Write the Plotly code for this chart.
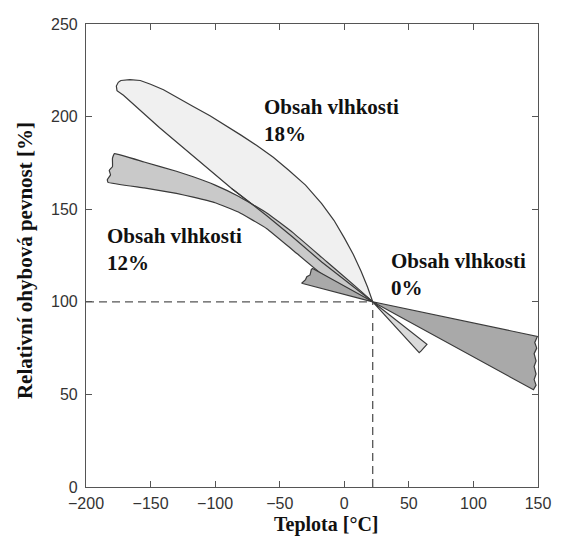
import plotly.graph_objects as go

# ---- data ----
# 18 % moisture band (light): upper curve, then lower edge back to the left tip
m18_x = [-173, -166, -158, -150, -140, -128, -117, -104, -91, -80, -68, -55, -43,
         -30, -17.5, -8, 0, 7, 13, 18, 22,
         -17.5, -40, -60, -87, -117, -143, -171, -176, -176.5, -175, -173]
m18_y = [219.5, 220, 219.5, 217.5, 214.5, 210, 205.5, 200.5, 195, 190, 184.5, 178, 171,
         163, 153, 144, 134.5, 125.5, 116.5, 108, 100,
         121.5, 135, 146.5, 161, 178.5, 194, 211.5, 214, 216.5, 218.5, 219.5]
# narrow tail beyond room temperature
tail_x = [22, 58, 59.5, 61, 62, 64, 22]
tail_y = [100, 72.5, 73.5, 74.5, 75.5, 77, 100]
# 12 % moisture band (medium)
m12_x = [-178, -155, -130, -117, -100, -82, -60, -40, -17.5, 22,
         -17.5, -40, -60, -82, -100, -117, -130, -155, -183,
         -183.5, -181, -182, -179.5, -179.5, -178]
m12_y = [180, 175.5, 170.5, 167.5, 163, 157, 148, 137.5, 124, 100,
         115, 128, 139.5, 148.5, 153.5, 156.5, 158.5, 161.5, 164.5,
         166, 168.5, 171, 173, 177.5, 180]
# 0 % moisture band (dark, bow-tie through the reference point)
m0_x = [-24.5, 22, 149.5, 147.5, 149, 147, 148.5, 147, 148.5, 147, 148.5, 146.5,
        22, -33, -30, -29, -26.5, -25.5, -24.5]
m0_y = [118, 100, 81.3, 78, 75, 72, 68, 65, 61, 58, 55, 52.5,
        100, 110, 112, 113.5, 114.5, 117.5, 118]

ref_x = 22
ref_y = 100

x_ticks = [-200, -150, -100, -50, 0, 50, 100, 150]
y_ticks = [0, 50, 100, 150, 200, 250]

labels = ["Obsah vlhkosti<br>18%", "Obsah vlhkosti<br>12%", "Obsah vlhkosti<br>0%"]
label_x = [-63.5, -185, 35]
label_y = [198, 128, 115]

# ---- figure ----
edge = dict(color="#3a3a3a", width=1.2)
fig = go.Figure()

fig.add_trace(go.Scatter(x=[-200, ref_x], y=[ref_y, ref_y], mode="lines",
                         line=dict(color="#555555", width=1.3, dash="8px,5px"),
                         hoverinfo="skip"))
fig.add_trace(go.Scatter(x=[ref_x, ref_x], y=[0, ref_y], mode="lines",
                         line=dict(color="#555555", width=1.3, dash="8px,5px"),
                         hoverinfo="skip"))

fig.add_trace(go.Scatter(x=m18_x, y=m18_y, fill="toself", fillcolor="#f0f0f0",
                         mode="lines", line=edge))
fig.add_trace(go.Scatter(x=m12_x, y=m12_y, fill="toself", fillcolor="#c9c9c9",
                         mode="lines", line=dict(color="#3a3a3a", width=1.2, shape="spline", smoothing=0.3)))
# redraw the 18% lower edge on top of the 12% band
fig.add_trace(go.Scatter(x=m18_x[20:25], y=m18_y[20:25], mode="lines", line=edge))
fig.add_trace(go.Scatter(x=tail_x, y=tail_y, fill="toself", fillcolor="#dadada",
                         mode="lines", line=edge))
fig.add_trace(go.Scatter(x=m0_x, y=m0_y, fill="toself", fillcolor="#a9a9a9",
                         mode="lines", line=edge))

for t, xx, yy in zip(labels, label_x, label_y):
    fig.add_annotation(x=xx, y=yy, text=t, showarrow=False, xanchor="left",
                       yanchor="middle", align="left",
                       font=dict(family="Liberation Serif, Times New Roman, serif",
                                 size=21, color="#111111", weight="bold"))

axis_common = dict(showline=True, linecolor="#555555", linewidth=1.2, mirror="ticks",
                   ticks="inside", ticklen=6, tickcolor="#555555", tickwidth=1.2,
                   showgrid=False, zeroline=False,
                   tickfont=dict(family="Liberation Sans, Arial, sans-serif",
                                 size=16, color="#333333"))

fig.update_xaxes(range=[-200, 150], tickvals=x_ticks, ticklabelstandoff=2, **axis_common)
fig.update_yaxes(range=[0, 250], tickvals=y_ticks, ticklabelstandoff=4, **axis_common)

title_font = dict(family="Liberation Serif, Times New Roman, serif", size=20,
                  color="#111111", weight="bold")
fig.add_annotation(x=0.53, y=-0.082, xref="paper", yref="paper", text="Teplota [°C]",
                   showarrow=False, xanchor="center", yanchor="middle", font=title_font)
fig.add_annotation(x=-0.135, y=0.49, xref="paper", yref="paper",
                   text="Relativní ohybová pevnost [%]", textangle=-90,
                   showarrow=False, xanchor="center", yanchor="middle",
                   font=dict(family="Liberation Serif, Times New Roman, serif", size=21,
                             color="#111111", weight="bold"))

fig.update_layout(width=563, height=536, showlegend=False,
                  margin=dict(l=86, r=16, t=24, b=49),
                  plot_bgcolor="white", paper_bgcolor="white")

fig.write_html("out.html")
